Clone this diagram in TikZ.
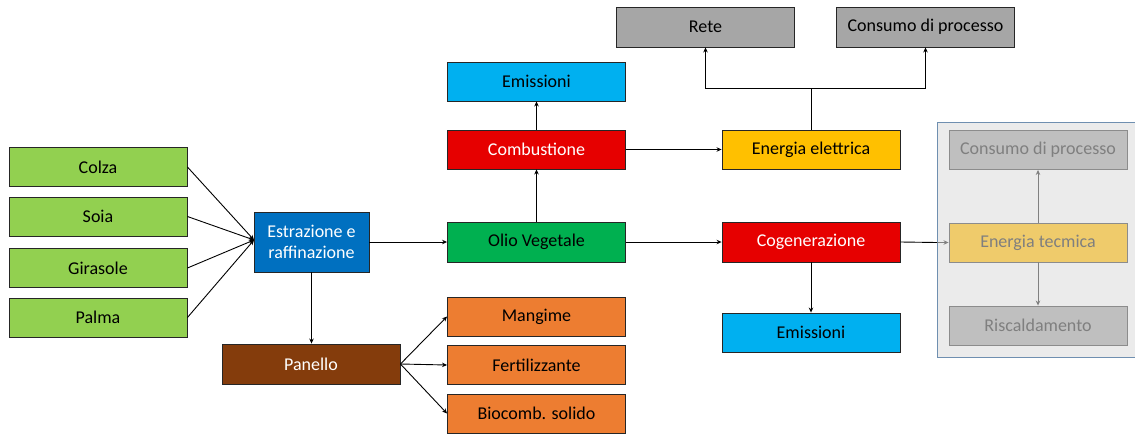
\documentclass[tikz,border=0pt]{standalone}
\usepackage{fontspec}
\setmainfont{Carlito}
\usetikzlibrary{arrows.meta}
\definecolor{cgreenl}{HTML}{92D050}
\definecolor{cblue}{HTML}{0070C0}
\definecolor{cgreen}{HTML}{00B050}
\definecolor{cred}{HTML}{E60000}
\definecolor{clblue}{HTML}{00B0F0}
\definecolor{cyellow}{HTML}{FFC000}
\definecolor{corange}{HTML}{ED7D31}
\definecolor{cbrown}{HTML}{843C0C}
\definecolor{cgray}{HTML}{A6A6A6}
\definecolor{cpanel}{HTML}{EBEBEB}
\definecolor{cpanelb}{HTML}{6F8FB0}
\definecolor{cfgray}{HTML}{BFBFBF}
\definecolor{cfyel}{HTML}{EFCB6B}
\definecolor{cftext}{HTML}{7F7F7F}
\tikzset{
  box/.style={draw=black!85, line width=0.9pt, minimum width=178pt, minimum height=39pt,
    inner sep=1pt, font=\fontsize{18}{21}\selectfont, align=center},
  fbox/.style={box, draw=black!45, text=cftext},
  arr/.style={line width=0.9pt, -{Stealth[length=5pt,width=4.5pt]}},
  farr/.style={arr, draw=black!50},
  ln/.style={line width=0.9pt}
}
\begin{document}
\begin{tikzpicture}[x=1pt,y=1pt]
\useasboundingbox (0,0) rectangle (1135,-434);
% panel
\fill[cpanel] (937,-122) rectangle (1140,-357);
\draw[cpanelb, line width=1pt] (1140,-122) -- (937,-122) -- (937,-357) -- (1140,-357);
% sources
\node[box, fill=cgreenl] (colza) at (98,-167) {Colza};
\node[box, fill=cgreenl] (soia) at (98,-216.5) {Soia};
\node[box, fill=cgreenl] (girasole) at (98,-268) {Girasole};
\node[box, fill=cgreenl] (palma) at (98,-317.5) {Palma};
\node[box, fill=cblue, text=white, minimum width=115pt, minimum height=60pt] (estr) at (311.5,-242) {Estrazione e\\raffinazione};
\node[box, fill=cgreen, minimum height=40pt] (olio) at (536.5,-242) {Olio Vegetale};
\node[box, fill=cred, text=white] (comb) at (536.5,-149.5) {Combustione};
\node[box, fill=clblue] (emis1) at (536.5,-81.5) {Emissioni};
\node[box, fill=corange] (mang) at (536.5,-316.5) {Mangime};
\node[box, fill=corange] (fert) at (536.5,-365) {Fertilizzante};
\node[box, fill=corange] (bioc) at (536.5,-413.5) {Biocomb. solido};
\node[box, fill=cbrown, text=white, minimum height=40pt] (panello) at (311,-364) {Panello};
\node[box, fill=cyellow] (enel) at (811,-149.5) {Energia elettrica};
\node[box, fill=cred, text=white, minimum height=40pt] (cogen) at (811,-242) {Cogenerazione};
\node[box, fill=clblue] (emis2) at (811,-332.5) {Emissioni};
\node[box, fill=cgray, minimum height=40pt] (rete) at (705.5,-27) {Rete};
\node[box, fill=cgray, minimum height=40pt] (cons1) at (925.5,-27) {Consumo di processo};
\node[fbox, fill=cfgray] (cons2) at (1038,-150) {Consumo di processo};
\node[fbox, fill=cfyel] (entec) at (1038,-242.5) {Energia tecmica};
\node[fbox, fill=cfgray] (risc) at (1038,-325.5) {Riscaldamento};
% connectors
\coordinate (conv) at (254,-240);
\foreach \s in {colza,soia,girasole,palma} \draw[arr] (\s.east) -- (conv);
\draw[arr] (estr.east) -- (olio.west);
\draw[arr] (estr.south) -- (estr.south |- panello.north);
\draw[arr] (panello.east) -- (mang.west);
\draw[arr] (panello.east) -- (fert.west);
\draw[arr] (panello.east) -- (bioc.west);
\draw[arr] (olio.north) -- (comb.south);
\draw[arr] (comb.north) -- (emis1.south);
\draw[arr] (comb.east) -- (enel.west);
\draw[arr] (olio.east) -- (cogen.west);
\draw[arr] (cogen.south) -- (emis2.north);
\coordinate (split) at (811,-88);
\draw[ln] (enel.north) -- (split);
\draw[arr] (split) -| (rete.south);
\draw[arr] (split) -| (cons1.south);
\coordinate (pin) at (937,-242.5);
\draw[ln] (cogen.east) -- (pin);
\draw[farr] (pin) -- (entec.west);
\draw[farr] (entec.north) -- (cons2.south);
\draw[farr] (entec.south) -- (risc.north);
\end{tikzpicture}
\end{document}
